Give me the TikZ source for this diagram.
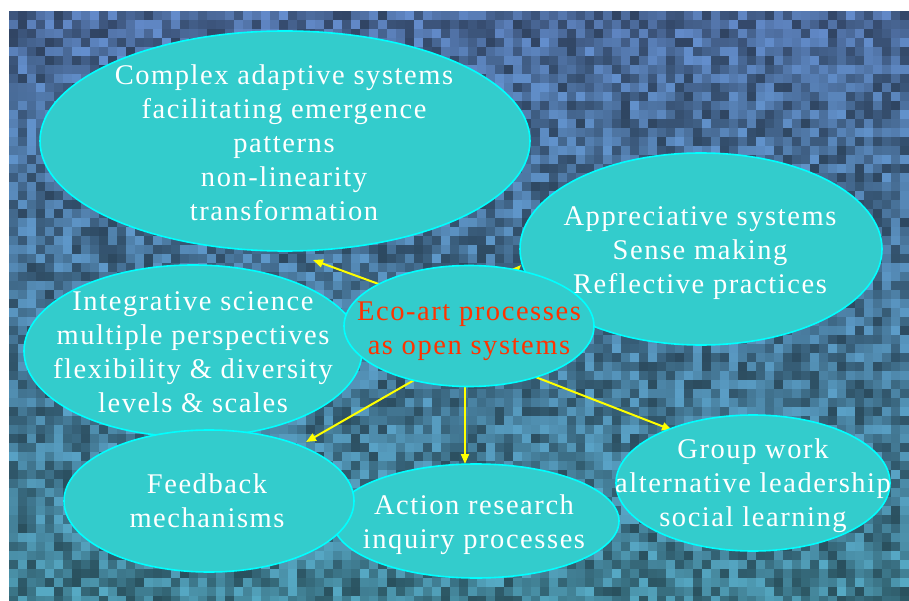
\documentclass[tikz,border=0pt]{standalone}
\usepackage{fontspec}
\setmainfont{Liberation Serif}[LetterSpace=5.5]
\usetikzlibrary{shapes.geometric,arrows.meta}
\pgfdeclarelayer{bgl}
\pgfdeclarelayer{arl}
\pgfsetlayers{bgl,arl,main}
\definecolor{bubfill}{RGB}{51,204,204}
\definecolor{bubline}{RGB}{0,255,255}
\definecolor{ecored}{RGB}{255,51,0}
\definecolor{arrowyel}{RGB}{255,255,0}
\definecolor{mosA}{RGB}{100,140,205}
\definecolor{mosB}{RGB}{85,170,195}
\begin{document}
\begin{tikzpicture}[x=1pt,y=-1pt,
  bubble/.style={ellipse, fill=bubfill, draw=bubline, line width=1.6pt, inner sep=0pt},
  txt/.style={text=white, align=center, font=\fontsize{28.5}{34}\selectfont, inner sep=0pt},
  conn/.style={draw=arrowyel, line width=2pt, -{Triangle[length=10pt,width=8pt]}}]
\useasboundingbox (0,0) rectangle (909,601);
\begin{pgfonlayer}{bgl}
  \fill[white] (0,0) rectangle (909,601);
  \pgfmathsetseed{12}
  \begin{scope}
    \clip (9,11) rectangle (909,601);
    \foreach \i in {0,...,99}{
      \foreach \j in {0,...,65}{
        \pgfmathtruncatemacro{\v}{100-\j*1.5}
        \pgfmathrandominteger{\b}{48}{100}
        \fill[mosA!\v!mosB!\b!black] ({9+9*\i},{11+9*\j}) rectangle ++(9.4,9.4);
      }
    }
  \end{scope}
\end{pgfonlayer}

% bubbles
\node[bubble, minimum width=490pt, minimum height=220pt] (cplx) at (285,141) {};
\node[txt] (cplxT) at (284,143) {Complex adaptive systems\\facilitating emergence\\patterns\\non-linearity\\transformation};
\node[bubble, minimum width=362pt, minimum height=192pt] (app) at (701,249) {};
\node[txt] (appT) at (700,253) {Appreciative systems\\Sense making\\Reflective practices};
\node[bubble, minimum width=338pt, minimum height=172pt] (integ) at (193,351) {};
\node[txt] (integT) at (193,352) {Integrative science\\multiple perspectives\\flexibility \& diversity\\levels \& scales};
\node[bubble, minimum width=286pt, minimum height=114pt] (act) at (476,521) {};
\node[txt] (actT) at (474,525) {Action research\\inquiry processes};
\node[bubble, minimum width=290pt, minimum height=142pt] (feed) at (209,501) {};
\node[txt] (feedT) at (207,501) {Feedback\\mechanisms};
\node[bubble, minimum width=274pt, minimum height=136pt] (grp) at (753,483) {};
\node[txt] (grpT) at (753,486) {Group work\\alternative leadership\\social learning};
\node[bubble, minimum width=250pt, minimum height=121pt] (eco) at (469,326) {};
\node[txt, text=ecored] (ecoT) at (469,331) {Eco-art processes\\as open systems};

% connector end points
\coordinate (sCplx) at (395,290);
\coordinate (tCplx) at (313,260);
\coordinate (sFeed) at (430,371);
\coordinate (tFeed) at (306,442);
\coordinate (sAct) at (465,370);
\coordinate (tAct) at (465,464);
\coordinate (sGrp) at (520,371);
\coordinate (tGrp) at (672,430);
\coordinate (sApp) at (500,287);
\coordinate (tApp) at (521,265);

\begin{pgfonlayer}{arl}
  \draw[conn] (sCplx) -- (tCplx);
  \draw[conn] (sFeed) -- (tFeed);
  \draw[conn] (sAct) -- (tAct);
  \draw[conn] (sGrp) -- (tGrp);
  \draw[conn] (sApp) -- (tApp);
\end{pgfonlayer}
\end{tikzpicture}
\end{document}
